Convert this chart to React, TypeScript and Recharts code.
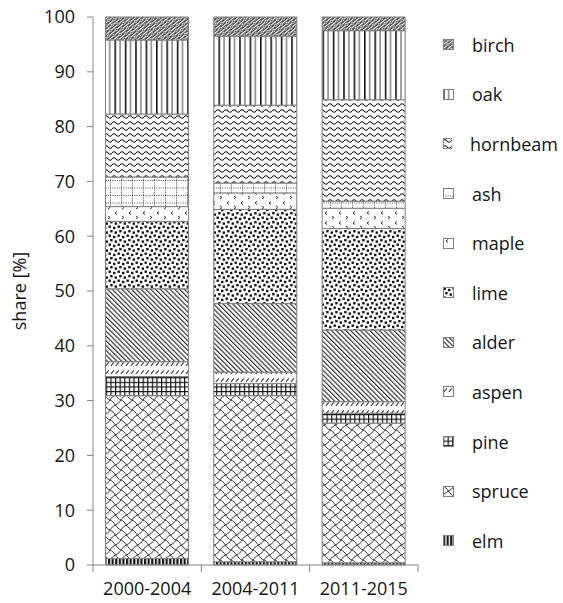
import React from "react";
import { BarChart, Bar, XAxis, YAxis, Legend } from "recharts";

// shares per period, read bottom (elm) to top (birch)
const PERIODS = ["2000-2004", "2004-2011", "2011-2015"];
const ELM = [1.2, 0.6, 0.4];
const SPRUCE = [29.7, 30.3, 25.5];
const PINE = [3.5, 2.2, 1.8];
const ASPEN = [2.7, 2.1, 2.1];
const ALDER = [13.3, 12.5, 13.1];
const LIME = [12.3, 17.2, 18.5];
const MAPLE = [2.7, 3.0, 3.7];
const ASH = [5.4, 1.8, 1.3];
const HORNBEAM = [11.5, 14.2, 18.5];
const OAK = [13.5, 12.6, 12.6];
const BIRCH = [4.2, 3.5, 2.5];

const Y_TICKS = [0, 10, 20, 30, 40, 50, 60, 70, 80, 90, 100];

const SERIES: { key: string; values: number[] }[] = [
  { key: "elm", values: ELM },
  { key: "spruce", values: SPRUCE },
  { key: "pine", values: PINE },
  { key: "aspen", values: ASPEN },
  { key: "alder", values: ALDER },
  { key: "lime", values: LIME },
  { key: "maple", values: MAPLE },
  { key: "ash", values: ASH },
  { key: "hornbeam", values: HORNBEAM },
  { key: "oak", values: OAK },
  { key: "birch", values: BIRCH },
];

const data = PERIODS.map((period, i) => {
  const row: Record<string, string | number> = { period };
  SERIES.forEach((s) => {
    row[s.key] = s.values[i];
  });
  return row;
});

const INK = "#151515";
const AXIS = "#868686";
const OUTLINE = "#7f7f7f";
const TICK_SIZE = 7;
const TICK_MARGIN = 10;

const Patterns = () => (
  <defs>
    <pattern id="p-elm" width="3.6" height="4" patternUnits="userSpaceOnUse">
      <rect width="3.6" height="4" fill="#fff" />
      <rect width="2.2" height="4" fill={INK} />
    </pattern>
    <pattern id="p-spruce" width="11" height="10" patternUnits="userSpaceOnUse">
      <rect width="11" height="10" fill="#fff" />
      <path
        d="M0,0 C4,1 7,9 11,10 M0,10 C1.5,6 9.5,4 11,0"
        fill="none"
        stroke={INK}
        strokeWidth="0.9"
      />
    </pattern>
    <pattern id="p-pine" width="4.6" height="4.6" patternUnits="userSpaceOnUse">
      <rect width="4.6" height="4.6" fill="#fff" />
      <path d="M0,0.6 H4.6 M0.6,0 V4.6" stroke={INK} strokeWidth="1.2" />
    </pattern>
    <pattern id="p-aspen" width="5" height="8" patternUnits="userSpaceOnUse">
      <rect width="5" height="8" fill="#fff" />
      <path d="M0.8,6 L3.8,2.4" stroke="#333" strokeWidth="1.1" />
    </pattern>
    <pattern
      id="p-alder"
      width="3.4"
      height="4"
      patternUnits="userSpaceOnUse"
      patternTransform="rotate(-45)"
    >
      <rect width="3.4" height="4" fill="#fff" />
      <rect width="1.2" height="4" fill="#333" />
    </pattern>
    <pattern id="p-lime" width="9" height="9" patternUnits="userSpaceOnUse">
      <rect width="9" height="9" fill="#fff" />
      <rect x="0.5" y="0.5" width="2.4" height="2.4" fill={INK} />
      <rect x="5" y="1.8" width="2.4" height="2.4" fill={INK} />
      <rect x="2.2" y="5" width="2.4" height="2.4" fill={INK} />
      <rect x="6.6" y="6.4" width="2.4" height="2.4" fill={INK} />
    </pattern>
    <pattern id="p-maple" width="14" height="10" patternUnits="userSpaceOnUse">
      <rect width="14" height="10" fill="#fff" />
      <path
        d="M5,1.5 L3,3 L5,4.5 M10,6 L12,7.5 L10,9"
        fill="none"
        stroke="#333"
        strokeWidth="1"
      />
    </pattern>
    <pattern id="p-ash" width="11" height="7.5" patternUnits="userSpaceOnUse">
      <rect width="11" height="7.5" fill="#fff" />
      <path
        d="M0,0.5 H11 M0.5,0 V7.5"
        stroke="#333"
        strokeWidth="0.9"
        strokeDasharray="1 1.3"
      />
    </pattern>
    <pattern id="p-hornbeam" width="8" height="6" patternUnits="userSpaceOnUse">
      <rect width="8" height="6" fill="#fff" />
      <path
        d="M0,3 Q2,0.6 4,3 T8,3"
        fill="none"
        stroke={INK}
        strokeWidth="1.1"
      />
    </pattern>
    <pattern id="p-oak" width="10.4" height="10" patternUnits="userSpaceOnUse">
      <rect width="10.4" height="10" fill="#fff" />
      <rect x="0" width="1.6" height="10" fill={INK} />
      <rect x="5.2" width="1" height="10" fill="#444" />
    </pattern>
    <pattern
      id="p-birch"
      width="10"
      height="6"
      patternUnits="userSpaceOnUse"
      patternTransform="rotate(-40)"
    >
      <rect width="10" height="6" fill="#fff" />
      <rect x="0.6" y="0.5" width="8.8" height="2.2" rx="1.1" fill="none" stroke={INK} strokeWidth="0.8" />
      <rect x="-4.4" y="3.5" width="8.8" height="2.2" rx="1.1" fill="none" stroke={INK} strokeWidth="0.8" />
      <rect x="5.6" y="3.5" width="8.8" height="2.2" rx="1.1" fill="none" stroke={INK} strokeWidth="0.8" />
    </pattern>
  </defs>
);

const PeriodTick = (props: any) => {
  const { x, y, payload, index } = props;
  const half = payload && payload.offset ? payload.offset : 0;
  const top = y - TICK_MARGIN - TICK_SIZE;
  const isLast = index === PERIODS.length - 1;
  return (
    <g>
      <line x1={x - half} x2={x - half} y1={top} y2={top + TICK_SIZE} stroke={AXIS} />
      {isLast && (
        <line x1={x + half} x2={x + half} y1={top} y2={top + TICK_SIZE} stroke={AXIS} />
      )}
      <text x={x} y={y} dy="0.71em" textAnchor="middle" fill={INK} fontSize={18}>
        {payload.value}
      </text>
    </g>
  );
};

const LegendList = () => (
  <div style={{ paddingLeft: 25 }}>
    {[...SERIES].reverse().map((s) => (
      <div
        key={s.key}
        style={{
          height: 49.6,
          display: "flex",
          alignItems: "center",
          fontSize: 18,
          color: INK,
        }}
      >
        <svg width="11" height="11" style={{ marginRight: 18 }}>
          <rect
            x="0.5"
            y="0.5"
            width="10"
            height="10"
            fill={`url(#p-${s.key})`}
            stroke={OUTLINE}
          />
        </svg>
        {s.key}
      </div>
    ))}
  </div>
);

export default function App() {
  return (
    <div style={{ fontFamily: "'Open Sans', sans-serif" }}>
      <style>{"body{margin:0}"}</style>
      <BarChart
        width={563}
        height={603}
        data={data}
        margin={{ top: 17, right: 5, bottom: 0, left: 0 }}
        barCategoryGap="11.5%"
      >
        <Patterns />
        <XAxis
          dataKey="period"
          height={38}
          axisLine={{ stroke: AXIS }}
          tickLine={false}
          tickSize={TICK_SIZE}
          tickMargin={TICK_MARGIN}
          tick={<PeriodTick />}
          interval={0}
        />
        <YAxis
          width={93}
          domain={[0, 100]}
          ticks={Y_TICKS}
          interval={0}
          axisLine={{ stroke: AXIS }}
          tickLine={{ stroke: AXIS }}
          tickSize={6}
          tickMargin={12}
          tick={{ fill: INK, fontSize: 18 }}
          label={({ viewBox }: any) => {
            const cx = viewBox.x + 19;
            const cy = viewBox.y + viewBox.height / 2;
            return (
              <text
                x={cx}
                y={cy}
                transform={`rotate(-90 ${cx} ${cy})`}
                textAnchor="middle"
                dominantBaseline="central"
                fill={INK}
                fontSize={18}
              >
                share [%]
              </text>
            );
          }}
        />
        <Legend
          layout="vertical"
          align="right"
          verticalAlign="top"
          wrapperStyle={{ top: 20, right: 5, width: 140 }}
          content={<LegendList />}
        />
        {SERIES.map((s) => (
          <Bar
            key={s.key}
            dataKey={s.key}
            stackId="a"
            fill={`url(#p-${s.key})`}
            stroke={OUTLINE}
            strokeWidth={1}
            isAnimationActive={false}
          />
        ))}
      </BarChart>
    </div>
  );
}
